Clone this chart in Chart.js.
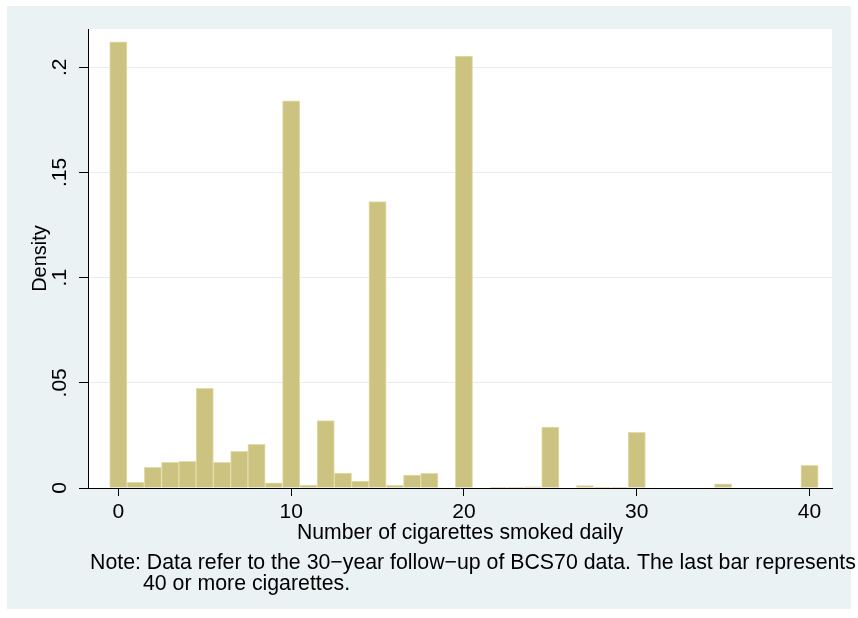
<!DOCTYPE html>
<html>
<head>
<meta charset="utf-8">
<script src="https://cdn.jsdelivr.net/npm/chart.js@4/dist/chart.umd.min.js"></script>
<style>
  html, body { margin: 0; padding: 0; background: #fff; }
  #wrap { width: 858px; height: 618px; }
</style>
</head>
<body>
<div id="wrap"><canvas id="hist" width="858" height="618"></canvas></div>
<script>
'use strict';

// >>> data <<<
const bins = [0, 1, 2, 3, 4, 5, 6, 7, 8, 9, 10, 11, 12, 13, 14, 15, 16, 17, 18, 19, 20,
  21, 22, 23, 24, 25, 26, 27, 28, 29, 30, 31, 32, 33, 34, 35, 36, 37, 38, 39, 40];
const density = [0.2121, 0.0027, 0.0098, 0.0122, 0.0127, 0.0474, 0.0122, 0.0174, 0.0208, 0.0025,
  0.184, 0.0014, 0.032, 0.0071, 0.0033, 0.1361, 0.0013, 0.0062, 0.007, 0,
  0.2053, 0, 0.0003, 0.0003, 0.0006, 0.029, 0, 0.0011, 0.0003, 0.0003,
  0.0265, 0, 0, 0, 0, 0.002, 0, 0, 0, 0, 0.0108];
const xTicks = [0, 10, 20, 30, 40];
const yTicks = [0, 0.05, 0.1, 0.15, 0.2];
const yTickLabels = ['0', '.05', '.1', '.15', '.2'];

const xTitle = 'Number of cigarettes smoked daily';
const yTitle = 'Density';
const noteLines = [
  'Note: Data refer to the 30\u2212year follow\u2212up of BCS70 data. The last bar represents',
  '40 or more cigarettes.'
];

const fontFamily = "'Liberation Sans', Arial, Helvetica, sans-serif";
const bgColor = '#EAF2F3';

// >>> background + note plugin <<<
const stataFrame = {
  id: 'stataFrame',
  beforeDraw(chart) {
    const ctx = chart.ctx;
    const a = chart.chartArea;
    ctx.save();
    ctx.fillStyle = '#ffffff';
    ctx.fillRect(0, 0, chart.width, chart.height);
    ctx.fillStyle = bgColor;
    ctx.fillRect(7, 6, 844, 603);
    ctx.fillStyle = '#ffffff';
    ctx.fillRect(a.left, a.top, a.right - a.left, a.bottom - a.top);
    ctx.restore();
  },
  afterDraw(chart) {
    // the note sits under the axis title, like Stata's note()
    const ctx = chart.ctx;
    ctx.save();
    ctx.fillStyle = '#000';
    ctx.font = '21.3px ' + fontFamily;
    ctx.textBaseline = 'alphabetic';
    ctx.textAlign = 'left';
    ctx.fillText(noteLines[0], 90, 569);
    ctx.fillText(noteLines[1], 143, 590);
    ctx.restore();
  }
};

let canvasElement = document.getElementById('hist').getContext('2d');

new Chart(canvasElement, {
  type: 'bar',
  data: {
    datasets: [{
      data: bins.map((b, i) => ({ x: b, y: density[i] })),
      backgroundColor: '#CBC37F',
      borderColor: '#E3DDAC',
      borderWidth: 1,
      barPercentage: 1,
      categoryPercentage: 1
    }]
  },
  options: {
    responsive: false,
    animation: false,
    layout: { padding: { left: 7, right: 26, top: 29, bottom: 72 } },
    plugins: {
      legend: { display: false },
      tooltip: { enabled: false }
    },
    scales: {
      x: {
        type: 'linear',
        min: -1.755,
        max: 41.3,
        offset: false,
        afterBuildTicks: (scale) => { scale.ticks = xTicks.map(v => ({ value: v })); },
        afterFit: (scale) => { scale.height = 58; },
        grid: {
          offset: false,
          drawOnChartArea: false,
          color: '#000',
          tickColor: '#000',
          tickLength: 8,
          tickWidth: 1
        },
        border: { display: true, color: '#000', width: 1 },
        ticks: {
          color: '#000',
          padding: 4,
          maxRotation: 0,
          font: { family: fontFamily, size: 21 }
        },
        title: {
          display: true,
          text: xTitle,
          color: '#000',
          padding: { top: 0, bottom: 0 },
          font: { family: fontFamily, size: 21.2 }
        }
      },
      y: {
        type: 'linear',
        min: 0,
        max: 0.2182,
        afterBuildTicks: (scale) => { scale.ticks = yTicks.map(v => ({ value: v })); },
        afterFit: (scale) => { scale.width = 81; },
        grid: {
          color: (c) => c.tick && c.tick.value === 0 ? 'rgba(0,0,0,0)' : '#E4EEF0',
          tickColor: '#000',
          tickLength: 9,
          lineWidth: 1
        },
        border: { display: true, color: '#000', width: 1 },
        ticks: {
          color: '#000',
          padding: 4,
          minRotation: 90,
          maxRotation: 90,
          crossAlign: 'center',
          font: { family: fontFamily, size: 21 },
          callback: (value, index) => yTickLabels[index]
        },
        title: {
          display: true,
          text: yTitle,
          color: '#000',
          padding: { top: 21, bottom: 0 },
          font: { family: fontFamily, size: 20 }
        }
      }
    }
  },
  plugins: [stataFrame]
});
</script>
</body>
</html>
